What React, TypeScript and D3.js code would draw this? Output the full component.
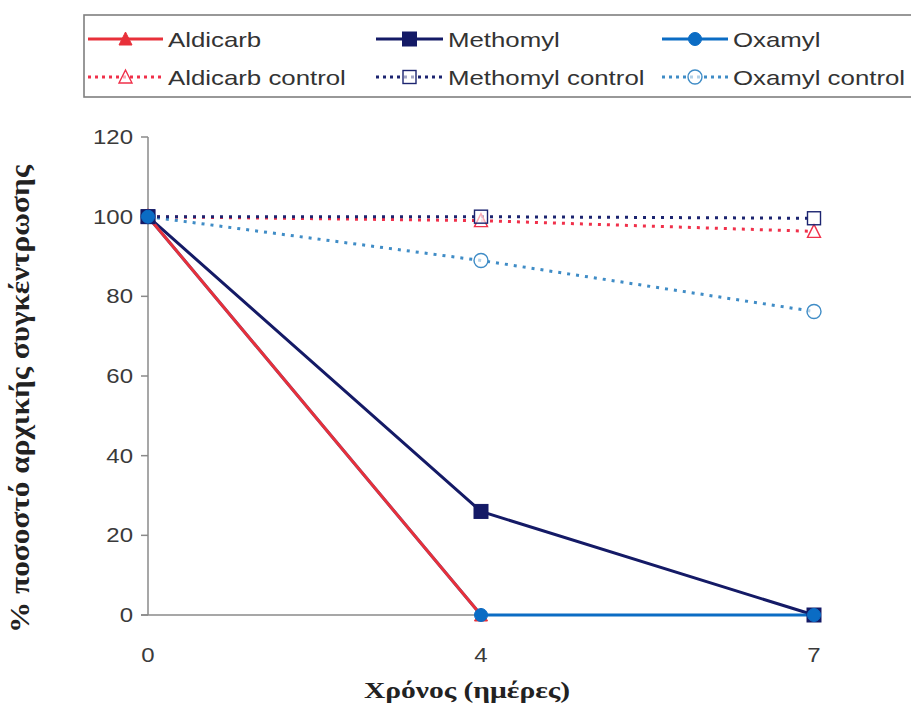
import React from "react";
import * as d3 from "d3";

const categories = ["0", "4", "7"];
const yTicks = [0, 20, 40, 60, 80, 100, 120];

const aldicarb: (number | null)[] = [100, 0, null];
const methomyl: (number | null)[] = [100, 26, 0];
const oxamyl: (number | null)[] = [100, 0, 0];
const aldicarbControl: (number | null)[] = [100, 99, 96.3];
const methomylControl: (number | null)[] = [100, 100, 99.6];
const oxamylControl: (number | null)[] = [100, 89, 76.2];

const seriesNames = ["Aldicarb", "Methomyl", "Oxamyl", "Aldicarb control", "Methomyl control", "Oxamyl control"];

type S = { name: string; values: (number | null)[]; color: string; dashed: boolean; marker: "tri" | "sq" | "circ" };

const sAldicarb: S = { name: seriesNames[0], values: aldicarb, color: "#e8303a", dashed: false, marker: "tri" };
const sMethomyl: S = { name: seriesNames[1], values: methomyl, color: "#141a66", dashed: false, marker: "sq" };
const sOxamyl: S = { name: seriesNames[2], values: oxamyl, color: "#0b6cc4", dashed: false, marker: "circ" };
const sAldicarbC: S = { name: seriesNames[3], values: aldicarbControl, color: "#f0304a", dashed: true, marker: "tri" };
const sMethomylC: S = { name: seriesNames[4], values: methomylControl, color: "#1c2470", dashed: true, marker: "sq" };
const sOxamylC: S = { name: seriesNames[5], values: oxamylControl, color: "#3f8cc6", dashed: true, marker: "circ" };

const lineOrder = [sAldicarbC, sOxamylC, sMethomylC, sMethomyl, sOxamyl, sAldicarb];
const markerOrder = [sAldicarbC, sOxamylC, sMethomylC, sAldicarb, sMethomyl, sOxamyl];

const SX = 1.23;
const sans = "'Liberation Sans', Arial, sans-serif";
const serif = "'Liberation Serif', 'Times New Roman', serif";

function T({ x, y, anchor = "start", size, children, fill = "#333", family = sans, weight = "normal" }: any) {
  return (
    <g transform={`translate(${x},${y}) scale(${SX},1)`}>
      <text textAnchor={anchor} fontSize={size} fill={fill} fontFamily={family} fontWeight={weight}>
        {children}
      </text>
    </g>
  );
}

function Marker({ kind, x, y, color, open }: { kind: string; x: number; y: number; color: string; open: boolean }) {
  const fill = open ? "rgba(255,255,255,0.6)" : color;
  const sw = open ? 1.4 : 1;
  if (kind === "sq") {
    const s = open ? 13 : 14;
    return <rect x={x - s / 2} y={y - s / 2} width={s} height={s} fill={fill} stroke={color} strokeWidth={sw} />;
  }
  if (kind === "circ") {
    return <circle cx={x} cy={y} r={open ? 7 : 6.5} fill={fill} stroke={color} strokeWidth={sw} />;
  }
  const h = 12;
  const w = 13;
  return (
    <path
      d={`M${x},${y - h / 2 - 1} L${x + w / 2},${y + h / 2} L${x - w / 2},${y + h / 2} Z`}
      fill={fill}
      stroke={color}
      strokeWidth={sw}
    />
  );
}

export default function App() {
  const x = d3.scalePoint<string>().domain(categories).range([148, 814]);
  const y = d3.scaleLinear().domain([0, 120]).range([615, 137]);
  const line = d3
    .line<number | null>()
    .defined((d) => d != null)
    .x((_, i) => x(categories[i]) as number)
    .y((d) => y(d as number));

  const axisColor = "#8a8a8a";

  const legendItems = [
    { s: sAldicarb, col: 0, row: 0 },
    { s: sMethomyl, col: 1, row: 0 },
    { s: sOxamyl, col: 2, row: 0 },
    { s: sAldicarbC, col: 0, row: 1 },
    { s: sMethomylC, col: 1, row: 1 },
    { s: sOxamylC, col: 2, row: 1 },
  ];
  const colSample = [
    [88, 163],
    [376, 443],
    [662, 728],
  ];
  const rowY = [39, 77];

  return (
    <svg width={911} height={727} style={{ position: "absolute", left: 0, top: 0, background: "#fff" }}>
      <rect x={0} y={0} width={911} height={727} fill="#fff" />
      {/* legend */}
      <rect x={84} y={15} width={840} height={82} fill="#fff" stroke="#7f7f7f" strokeWidth={1.6} />
      {legendItems.map(({ s, col, row }) => {
        const [x0, x1] = colSample[col];
        const cy = rowY[row];
        return (
          <g key={s.name}>
            <line
              x1={x0}
              x2={x1}
              y1={cy}
              y2={cy}
              stroke={s.color}
              strokeWidth={3}
              strokeDasharray={s.dashed ? "3 4" : undefined}
            />
            <Marker kind={s.marker} x={(x0 + x1) / 2} y={cy} color={s.color} open={s.dashed} />
            <T x={x1 + 5} y={cy + 8} size={21} fill="#333">
              {s.name}
            </T>
          </g>
        );
      })}

      {/* axes */}
      <line x1={148} x2={148} y1={y(120)} y2={y(0)} stroke={axisColor} strokeWidth={1.5} />
      <line x1={141} x2={x("7") as number} y1={y(0)} y2={y(0)} stroke={axisColor} strokeWidth={1.5} />
      {yTicks.map((t) => (
        <g key={t}>
          <line x1={141} x2={148} y1={y(t)} y2={y(t)} stroke={axisColor} strokeWidth={1.5} />
          <T x={133} y={y(t) + 7} anchor="end" size={19.5} fill="#3a3a3a">
            {t}
          </T>
        </g>
      ))}
      {categories.map((c) => (
        <T key={c} x={x(c) as number} y={662} anchor="middle" size={19.5} fill="#3a3a3a">
          {c}
        </T>
      ))}

      {/* series lines */}
      {lineOrder.map((s) => (
        <path
          key={s.name}
          d={line(s.values) as string}
          fill="none"
          stroke={s.color}
          strokeWidth={3}
          strokeDasharray={s.dashed ? "3 6" : undefined}
        />
      ))}
      {/* series markers */}
      {markerOrder.map((s) => (
        <g key={s.name}>
          {s.values.map((v, i) =>
            v == null ? null : (
              <Marker key={i} kind={s.marker} x={x(categories[i]) as number} y={y(v)} color={s.color} open={s.dashed} />
            )
          )}
        </g>
      ))}

      {/* axis titles */}
      <T x={467} y={698} anchor="middle" size={24} fill="#222" family={serif} weight="bold">
        Χρόνος (ημέρες)
      </T>
      <g transform={`translate(29,${(165 + 633) / 2}) rotate(-90) scale(1,${SX})`}>
        <text
          textAnchor="middle"
          fontSize={23}
          fontFamily={serif}
          fontWeight="bold"
          fill="#222"
          textLength={468}
          lengthAdjust="spacingAndGlyphs"
        >
          % ποσοστό αρχικής συγκέντρωσης
        </text>
      </g>
    </svg>
  );
}
